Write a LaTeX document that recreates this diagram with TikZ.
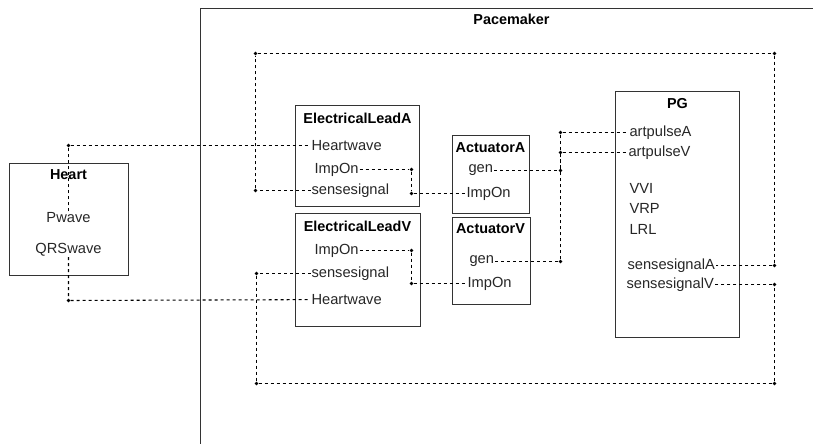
\documentclass[tikz,border=0pt]{standalone}
\usepackage{fontspec}
\setmainfont{Liberation Sans}
\usetikzlibrary{fit}
\tikzset{
  box/.style={draw=black!80, line width=0.75pt, inner sep=0pt},
  title/.style={font=\bfseries\fontsize{10.8}{12}\selectfont},
  port/.style={anchor=west, inner sep=0.6pt, font=\fontsize{11}{12}\selectfont, text=black!85},
  wire/.style={draw, line width=0.8pt, dash pattern=on 2.25pt off 2.25pt},
  joint/.style={fill, circle, inner sep=0pt, minimum size=2.8pt}
}

\begin{document}
\begin{tikzpicture}[x=0.75pt, y=-0.75pt]
  \useasboundingbox (0,0) rectangle (813,443);
  \clip (0,0) rectangle (813,443);
  \begin{scope}[shift={(0.5,0.5)}]
  \node [box, line width=1pt, fit={(200,8) (830,460)}] (pacemaker) {};
  \node [title] (pacemakerlbl) at (511,19) {Pacemaker};

  \node [box, fit={(9,163) (128,275)}] (heart) {};
  \node [title] (heartlbl) at (68,174) {Heart};
  \node [port, anchor=center] (pwave) at (68,217) {Pwave};
  \node [port, anchor=center] (qrswave) at (68,249) {QRSwave};

  \node [box, fit={(295,105) (419,206)}] (leadA) {};
  \node [title] (leadAlbl) at (357,118) {ElectricalLeadA};
  \node [port] (leadAheart) at (310,145) {Heartwave};
  \node [port] (leadAimp) at (313,169) {ImpOn};
  \node [port] (leadAsense) at (310,190) {sensesignal};

  \node [box, fit={(295,213) (420,326)}] (leadV) {};
  \node [title] (leadVlbl) at (357,226) {ElectricalLeadV};
  \node [port] (leadVimp) at (313,250) {ImpOn};
  \node [port] (leadVsense) at (310,273) {sensesignal};
  \node [port] (leadVheart) at (310,299) {Heartwave};

  \node [box, fit={(452,135) (529,213)}] (actA) {};
  \node [title] (actAlbl) at (490,147) {ActuatorA};
  \node [port] (actAgen) at (467,170) {gen};
  \node [port] (actAimp) at (465,193) {ImpOn};

  \node [box, fit={(452,217) (530,304)}] (actV) {};
  \node [title] (actVlbl) at (490,228) {ActuatorV};
  \node [port] (actVgen) at (468,261) {gen};
  \node [port] (actVimp) at (466,283) {ImpOn};

  \node [box, fit={(615,91) (739,337)}] (pg) {};
  \node [title] (pglbl) at (677,103) {PG};
  \node [port] (pgpulseA) at (628,132) {artpulseA};
  \node [port] (pgpulseV) at (627,152) {artpulseV};
  \node [port] (pgvvi) at (628,188) {VVI};
  \node [port] (pgvrp) at (628,208) {VRP};
  \node [port] (pglrl) at (628,229) {LRL};
  \node [port] (pgsenseA) at (626,265) {sensesignalA};
  \node [port] (pgsenseV) at (625,284) {sensesignalV};

  \node [joint] (jP) at (68,145) {};
  \node [joint] (jQ) at (68,300) {};
  \node [joint] (jA1) at (411,169) {};
  \node [joint] (jA2) at (411,193) {};
  \node [joint] (jV1) at (411,250) {};
  \node [joint] (jV2) at (411,283) {};
  \node [joint] (jG1) at (560,170) {};
  \node [joint] (jG2) at (560,132) {};
  \node [joint] (jG3) at (560,261) {};
  \node [joint] (jG4) at (560,152) {};
  \node [joint] (jS1) at (255,190) {};
  \node [joint] (jS2) at (255,53) {};
  \node [joint] (jS3) at (774,53) {};
  \node [joint] (jS4) at (774,265) {};
  \node [joint] (jT1) at (256,273) {};
  \node [joint] (jT2) at (256,383) {};
  \node [joint] (jT3) at (774,383) {};
  \node [joint] (jT4) at (774,284) {};

  \draw [wire] (pwave) -- (jP) -- (leadAheart);
  \draw [wire] (qrswave) -- (jQ) -- (leadVheart);
  \draw [wire] (leadAimp) -- (jA1) -- (jA2) -- (actAimp);
  \draw [wire] (leadVimp) -- (jV1) -- (jV2) -- (actVimp);
  \draw [wire] (actAgen) -- (jG1) -- (jG2) -- (pgpulseA);
  \draw [wire] (actVgen) -- (jG3) -- (jG4) -- (pgpulseV);
  \draw [wire] (leadAsense) -- (jS1) -- (jS2) -- (jS3) -- (jS4) -- (pgsenseA);
  \draw [wire] (leadVsense) -- (jT1) -- (jT2) -- (jT3) -- (jT4) -- (pgsenseV);
  \end{scope}
\end{tikzpicture}
\end{document}
